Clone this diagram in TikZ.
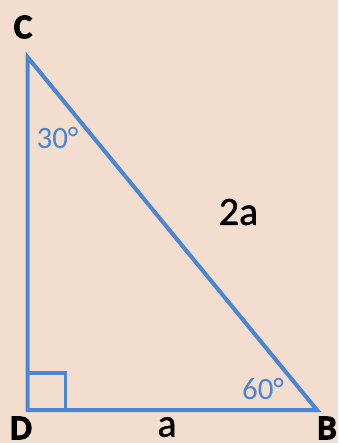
\documentclass[tikz,border=0pt]{standalone}
\usepackage{fontspec}
\setmainfont{Carlito}
\newfontfamily\heavyfont[FakeBold=2.5]{Carlito Bold}
\newfontfamily\lenfont[FakeBold=1]{Carlito}
\usepackage{tikz}
\usetikzlibrary{positioning,calc}
\definecolor{peachbg}{RGB}{242,221,206}
\definecolor{sideblue}{RGB}{74,134,212}

\begin{document}
\begin{tikzpicture}[x=1pt,y=-1pt,
    side/.style={draw=sideblue, line width=4pt, line join=miter},
    vertexlbl/.style={inner sep=0pt, font=\fontsize{35}{35}\heavyfont, text=black},
    lenlbl/.style={inner sep=0pt, font=\fontsize{40}{40}\lenfont, text=black},
    anglbl/.style={inner sep=0pt, font=\fontsize{31}{31}\selectfont, text=sideblue}
]
    % background
    \fill[peachbg] (0,0) rectangle (338,443);
    \useasboundingbox (0,0) rectangle (338,443);

    % vertices
    \coordinate (C) at (27.5,57);
    \coordinate (D) at (27.5,410);
    \coordinate (B) at (317,410);

    % triangle and right angle
    \draw[side] (C) -- (D) -- (B) -- cycle;
    \draw[side, line width=3.5pt] ($(D)+(0,-37)$) -| ($(D)+(38,0)$);

    % vertex labels
    \node[vertexlbl] (lc) at (23,27) {C};
    \node[vertexlbl] (ld) at (21,428) {D};
    \node[vertexlbl] (lb) at (327,428) {B};

    % side lengths
    \node[lenlbl] (hyp) at (238.5,212) {2a};
    \node[lenlbl] (base) at (167,427) {a};

    % angles
    \node[anglbl] (ac) at (57.5,138) {30°};
    \node[anglbl] (ab) at (263,389) {60°};
\end{tikzpicture}
\end{document}
